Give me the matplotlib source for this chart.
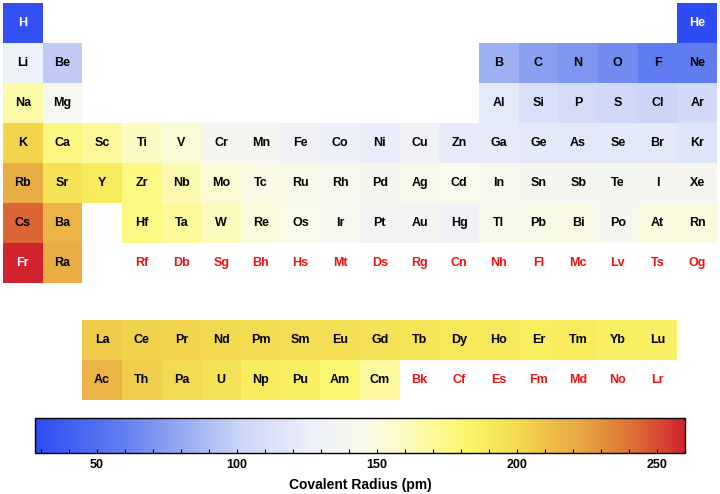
import numpy as np
import matplotlib
matplotlib.use("Agg")
import matplotlib.pyplot as plt
from matplotlib.colors import LinearSegmentedColormap, Normalize
from matplotlib.cm import ScalarMappable
from matplotlib.ticker import MultipleLocator

plt.rcParams['font.family'] = ['Liberation Sans', 'DejaVu Sans']
plt.rcParams['font.weight'] = 'bold'

# element symbols, Z = 1..118
symbols = [
    'H', 'He',
    'Li', 'Be', 'B', 'C', 'N', 'O', 'F', 'Ne',
    'Na', 'Mg', 'Al', 'Si', 'P', 'S', 'Cl', 'Ar',
    'K', 'Ca', 'Sc', 'Ti', 'V', 'Cr', 'Mn', 'Fe', 'Co', 'Ni', 'Cu', 'Zn',
    'Ga', 'Ge', 'As', 'Se', 'Br', 'Kr',
    'Rb', 'Sr', 'Y', 'Zr', 'Nb', 'Mo', 'Tc', 'Ru', 'Rh', 'Pd', 'Ag', 'Cd',
    'In', 'Sn', 'Sb', 'Te', 'I', 'Xe',
    'Cs', 'Ba', 'La', 'Ce', 'Pr', 'Nd', 'Pm', 'Sm', 'Eu', 'Gd', 'Tb', 'Dy',
    'Ho', 'Er', 'Tm', 'Yb', 'Lu', 'Hf', 'Ta', 'W', 'Re', 'Os', 'Ir', 'Pt',
    'Au', 'Hg', 'Tl', 'Pb', 'Bi', 'Po', 'At', 'Rn',
    'Fr', 'Ra', 'Ac', 'Th', 'Pa', 'U', 'Np', 'Pu', 'Am', 'Cm', 'Bk', 'Cf',
    'Es', 'Fm', 'Md', 'No', 'Lr', 'Rf', 'Db', 'Sg', 'Bh', 'Hs', 'Mt', 'Ds',
    'Rg', 'Cn', 'Nh', 'Fl', 'Mc', 'Lv', 'Ts', 'Og',
]

# covalent radius in pm (None = no data)
radii = [
    31, 28,
    128, 96, 84, 76, 71, 66, 57, 58,
    166, 141, 121, 111, 107, 105, 102, 106,
    203, 176, 170, 160, 153, 139, 139, 132, 126, 124, 132, 122,
    122, 120, 119, 120, 120, 116,
    220, 195, 190, 175, 164, 154, 147, 146, 142, 139, 145, 144,
    142, 139, 139, 138, 139, 140,
    244, 215, 207, 204, 203, 201, 199, 198, 198, 196, 194, 192,
    192, 189, 190, 187, 187, 175, 170, 162, 151, 144, 141, 136,
    136, 132, 145, 146, 148, 140, 150, 150,
    260, 221, 215, 206, 200, 196, 190, 187, 180, 169, None, None,
    None, None, None, None, None, None, None, None, None, None, None, None,
    None, None, None, None, None, None, None, None,
]

cbar_ticks = [50, 100, 150, 200, 250]
vmin, vmax = 28, 260

cmap = LinearSegmentedColormap.from_list('covrad', [
    ((28 - vmin) / (vmax - vmin), '#2E4CF4'),
    ((60 - vmin) / (vmax - vmin), '#6380EE'),
    ((85 - vmin) / (vmax - vmin), '#A3B3F2'),
    ((100 - vmin) / (vmax - vmin), '#C9D3F6'),
    ((125 - vmin) / (vmax - vmin), '#EBEFFA'),
    ((145 - vmin) / (vmax - vmin), '#F9F9EC'),
    ((160 - vmin) / (vmax - vmin), '#FCFBC2'),
    ((170 - vmin) / (vmax - vmin), '#FCF99A'),
    ((182 - vmin) / (vmax - vmin), '#FAF66A'),
    ((192 - vmin) / (vmax - vmin), '#F7E85A'),
    ((203 - vmin) / (vmax - vmin), '#F2D64D'),
    ((215 - vmin) / (vmax - vmin), '#ECB546'),
    ((222 - vmin) / (vmax - vmin), '#E8AB42'),
    ((244 - vmin) / (vmax - vmin), '#DB6735'),
    ((260 - vmin) / (vmax - vmin), '#D1232E'),
])
norm = Normalize(vmin=vmin, vmax=vmax)


def position(z):
    # (row, column) in the drawn grid, 0-based; rows 8/9 hold La-Lu and Ac-Lr
    starts = [1, 3, 11, 19, 37, 55, 87, 119]
    p = next(i for i in range(7) if starts[i] <= z < starts[i + 1])
    k = z - starts[p]
    if p == 0:
        return 0, 0 if k == 0 else 17
    if p in (1, 2):
        return p, k if k < 2 else k + 10
    if p in (3, 4):
        return p, k
    if k < 2:
        return p, k
    if k < 17:
        return p + 3, k
    return p, k - 14


W, H = 720, 494
fig = plt.figure(figsize=(W / 100, H / 100), dpi=100)
ax = fig.add_axes([3 / W, 1 - 400 / H, 714 / W, 397 / H])

gap = 0.925
y_edges = [0, 1, 2, 3, 4, 5, 6, 7, 7 + gap, 8 + gap, 9 + gap]
grid = np.full((10, 18), np.nan)
for z, (s, r) in enumerate(zip(symbols, radii), start=1):
    row, col = position(z)
    if r is not None:
        grid[row, col] = r
ax.pcolormesh(np.arange(19), y_edges, np.ma.masked_invalid(grid),
              cmap=cmap, norm=norm, edgecolors='none', antialiased=False)

for z, (s, r) in enumerate(zip(symbols, radii), start=1):
    row, col = position(z)
    yc = (y_edges[row] + y_edges[row + 1]) / 2
    if r is None:
        color = '#F01010'
    elif r < 40 or r > 250:
        color = 'white'
    else:
        color = 'black'
    ax.text(col + 0.5, yc, s, ha='center', va='center', fontsize=9,
            fontweight='bold', color=color)

ax.set_xlim(0, 18)
ax.set_ylim(9 + gap, 0)
ax.axis('off')

cax = fig.add_axes([35 / W, 1 - 453 / H, 650 / W, 35 / H])
cb = fig.colorbar(ScalarMappable(norm=norm, cmap=cmap), cax=cax,
                  orientation='horizontal')
cb.set_ticks(cbar_ticks)
cax.xaxis.set_minor_locator(MultipleLocator(10))
cax.tick_params(axis='x', which='both', direction='in', length=3,
                width=0.8, color='black', labelsize=9, pad=4)
cb.outline.set_linewidth(1.0)
for lab in cax.get_xticklabels():
    lab.set_fontweight('bold')
cb.set_label('Covalent Radius (pm)', fontsize=10, fontweight='bold',
             labelpad=5)

fig.savefig('out.png', dpi=100)
